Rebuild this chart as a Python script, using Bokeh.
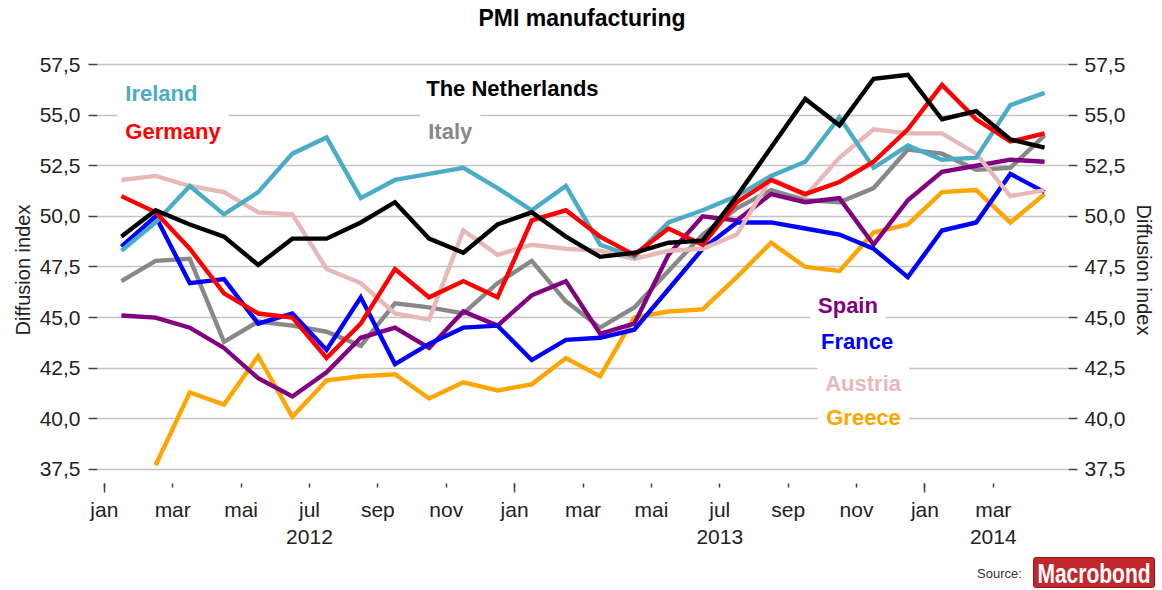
from bokeh.plotting import figure
from bokeh.models import Range1d, LinearAxis, FixedTicker, CustomJSTickFormatter, Label, Div
from bokeh.layouts import column
from bokeh.embed import file_html
from bokeh.resources import INLINE

# ---- data: monthly PMI, Jan 2012 .. Apr 2014 (28 months) ----
month_index = list(range(28))
nan = float("nan")

ireland     = [48.3, 49.7, 51.5, 50.1, 51.2, 53.1, 53.9, 50.9, 51.8, 52.1, 52.4, 51.4,
               50.3, 51.5, 48.6, 48.0, 49.7, 50.3, 51.0, 52.0, 52.7, 54.9, 52.4, 53.5,
               52.8, 52.9, 55.5, 56.1]
germany     = [51.0, 50.2, 48.4, 46.2, 45.2, 45.0, 43.0, 44.7, 47.4, 46.0, 46.8, 46.0,
               49.8, 50.3, 49.0, 48.1, 49.4, 48.6, 50.7, 51.8, 51.1, 51.7, 52.7, 54.3,
               56.5, 54.8, 53.7, 54.1]
netherlands = [49.0, 50.3, 49.6, 49.0, 47.6, 48.9, 48.9, 49.7, 50.7, 48.9, 48.2, 49.6,
               50.2, 49.0, 48.0, 48.2, 48.7, 48.8, 51.0, 53.4, 55.8, 54.5, 56.8, 57.0,
               54.8, 55.2, 53.8, 53.4]
italy       = [46.8, 47.8, 47.9, 43.8, 44.8, 44.6, 44.3, 43.6, 45.7, 45.5, 45.2, 46.7,
               47.8, 45.8, 44.5, 45.5, 47.3, 49.1, 50.4, 51.3, 50.8, 50.7, 51.4, 53.3,
               53.1, 52.3, 52.4, 54.0]
spain       = [45.1, 45.0, 44.5, 43.5, 42.0, 41.1, 42.3, 44.0, 44.5, 43.5, 45.3, 44.6,
               46.1, 46.8, 44.2, 44.7, 48.1, 50.0, 49.8, 51.1, 50.7, 50.9, 48.6, 50.8,
               52.2, 52.5, 52.8, 52.7]
france      = [48.5, 50.0, 46.7, 46.9, 44.7, 45.2, 43.4, 46.0, 42.7, 43.7, 44.5, 44.6,
               42.9, 43.9, 44.0, 44.4, 46.4, 48.4, 49.7, 49.7, 49.4, 49.1, 48.4, 47.0,
               49.3, 49.7, 52.1, 51.2]
austria     = [51.8, 52.0, 51.5, 51.2, 50.2, 50.1, 47.4, 46.7, 45.2, 44.9, 49.3, 48.1,
               48.6, 48.4, 48.3, 47.9, 48.3, 48.4, 49.1, 51.9, 51.0, 52.9, 54.3, 54.1,
               54.1, 53.1, 51.0, 51.3]
greece      = [nan, 37.7, 41.3, 40.7, 43.1, 40.1, 41.9, 42.1, 42.2, 41.0, 41.8, 41.4,
               41.7, 43.0, 42.1, 45.0, 45.3, 45.4, 47.0, 48.7, 47.5, 47.3, 49.2, 49.6,
               51.2, 51.3, 49.7, 51.1]

month_ticks  = [0, 2, 4, 6, 8, 10, 12, 14, 16, 18, 20, 22, 24, 26]
month_labels = ["jan", "mar", "mai", "jul", "sep", "nov",
                "jan", "mar", "mai", "jul", "sep", "nov",
                "jan", "mar"]
jan_ticks    = [0, 12, 24]
year_ticks   = [6, 18, 26]
year_labels  = ["2012", "2013", "2014"]
y_ticks      = [37.5, 40.0, 42.5, 45.0, 47.5, 50.0, 52.5, 55.0, 57.5]

series = [
    ("Greece", greece, "#FFA500"),
    ("Italy", italy, "#888888"),
    ("Spain", spain, "#800080"),
    ("France", france, "#0000FF"),
    ("Austria", austria, "#E6B9B8"),
    ("Ireland", ireland, "#4BACC6"),
    ("Germany", germany, "#FF0000"),
    ("The Netherlands", netherlands, "#000000"),
]

FONT = "Liberation Sans"

# ---- title row ----
title_html = (
    '<div style="position:relative;width:1162px;height:40px;">'
    '<span style="position:absolute;left:0px;top:4px;width:1164px;text-align:center;'
    'font-family:\'Liberation Sans\',Arial,sans-serif;font-weight:bold;font-size:23px;'
    'line-height:28px;color:#000000;">PMI manufacturing</span></div>'
)
ttl = Div(text=title_html, width=1162, height=40, margin=0)

# ---- chart ----
p = figure(width=1162, height=517, title=None, output_backend="svg", toolbar_location=None,
           x_range=Range1d(-0.2, 28.2), y_range=Range1d(36.8, 57.9),
           min_border_left=97, min_border_right=94, min_border_top=16, min_border_bottom=74)
p.outline_line_color = None
p.background_fill_color = "white"
p.border_fill_color = "white"

x_mid = [m + 0.5 for m in month_index]
for name, vals, col in series:
    p.line(x_mid, vals, line_color=col, line_width=4.4, line_join="miter")

# grid
p.xgrid.visible = False
p.ygrid.ticker = FixedTicker(ticks=y_ticks)
p.ygrid.grid_line_color = "#C4C4C4"
p.ygrid.grid_line_width = 1.6

yfmt = CustomJSTickFormatter(code="return tick.toFixed(1).replace('.', ',');")

def style_y(ax, tick_standoff, label_standoff):
    ax.ticker = FixedTicker(ticks=y_ticks)
    ax.formatter = yfmt
    ax.axis_line_color = None
    ax.major_tick_out = 9
    ax.major_tick_in = 0
    ax.minor_tick_out = 0
    ax.minor_tick_in = 0
    ax.major_tick_line_color = "#444444"
    ax.major_tick_line_width = 1.5
    ax.major_label_text_font = FONT
    ax.major_label_text_font_size = "21px"
    ax.major_label_text_color = "#222222"
    ax.major_label_standoff = tick_standoff
    ax.axis_label = "Diffusion index"
    ax.axis_label_text_font = FONT
    ax.axis_label_text_font_size = "20px"
    ax.axis_label_text_font_style = "normal"
    ax.axis_label_text_color = "#222222"
    ax.axis_label_standoff = label_standoff

style_y(p.yaxis[0], 8, 3)
p.extra_y_ranges = {"r": Range1d(36.8, 57.9)}
ry = LinearAxis(y_range_name="r")
style_y(ry, 7, 5)
p.add_layout(ry, "right")

LOOKUP = "const i = tpos.indexOf(Math.round(tick)); return i >= 0 ? tlab[i] : '';"

# x axis (months)
xa = p.xaxis[0]
xa.ticker = FixedTicker(ticks=month_ticks, minor_ticks=jan_ticks)
xa.formatter = CustomJSTickFormatter(args=dict(tpos=month_ticks, tlab=month_labels), code=LOOKUP)
xa.axis_line_color = None
xa.major_tick_out = 4
xa.major_tick_in = 0
xa.minor_tick_out = 9
xa.minor_tick_in = 0
xa.major_tick_line_color = "#444444"
xa.minor_tick_line_color = "#444444"
xa.major_tick_line_width = 1.5
xa.minor_tick_line_width = 1.5
xa.major_label_text_font = FONT
xa.major_label_text_font_size = "21px"
xa.major_label_text_color = "#222222"
xa.major_label_standoff = 5

# year axis
ya = LinearAxis(ticker=FixedTicker(ticks=year_ticks),
                formatter=CustomJSTickFormatter(args=dict(tpos=year_ticks, tlab=year_labels), code=LOOKUP))
ya.axis_line_color = None
ya.major_tick_out = 0
ya.major_tick_in = 0
ya.minor_tick_out = 0
ya.minor_tick_in = 0
ya.major_label_text_font = FONT
ya.major_label_text_font_size = "21px"
ya.major_label_text_color = "#222222"
ya.major_label_standoff = 6
p.add_layout(ya, "below")

# series labels (with white boxes that break the grid lines)
labels = [
    ("Ireland", 0.38, 56.07, "#4BACC6"),
    ("Germany", 0.38, 54.19, "#FF0000"),
    ("The Netherlands", 9.18, 56.31, "#000000"),
    ("Italy", 9.24, 54.19, "#888888"),
    ("Spain", 20.64, 45.60, "#800080"),
    ("France", 20.73, 43.82, "#0000FF"),
    ("Austria", 20.85, 41.75, "#E6B9B8"),
    ("Greece", 20.88, 40.07, "#FFA500"),
]
for txt, lx, ly, col in labels:
    p.add_layout(Label(x=lx, y=ly, text=txt, text_color=col, text_font=FONT,
                       text_font_size="22px", text_font_style="bold",
                       text_align="left", text_baseline="middle",
                       background_fill_color="white", padding=8))

# ---- source row ----
source_html = (
    '<div style="position:relative;width:1162px;height:33px;">'
    '<span style="position:absolute;left:977px;top:8px;font-family:\'Liberation Sans\',Arial,sans-serif;'
    'font-size:13px;color:#333333;">Source:</span>'
    '<div style="position:absolute;left:1033px;top:0px;width:122px;height:31px;'
    'background:#C1272D;border:1px solid #8E1A1E;border-radius:3px;text-align:center;">'
    '<span style="display:inline-block;line-height:31px;white-space:nowrap;'
    'transform:scaleY(1.32);color:white;'
    'font-family:\'Liberation Sans\',Arial,sans-serif;font-weight:bold;font-size:21px;">Macrobond</span>'
    '</div></div>'
)
src = Div(text=source_html, width=1162, height=33, margin=0)

layout = column(ttl, p, src, spacing=0)
open("out.html", "w").write(file_html(layout, INLINE))
